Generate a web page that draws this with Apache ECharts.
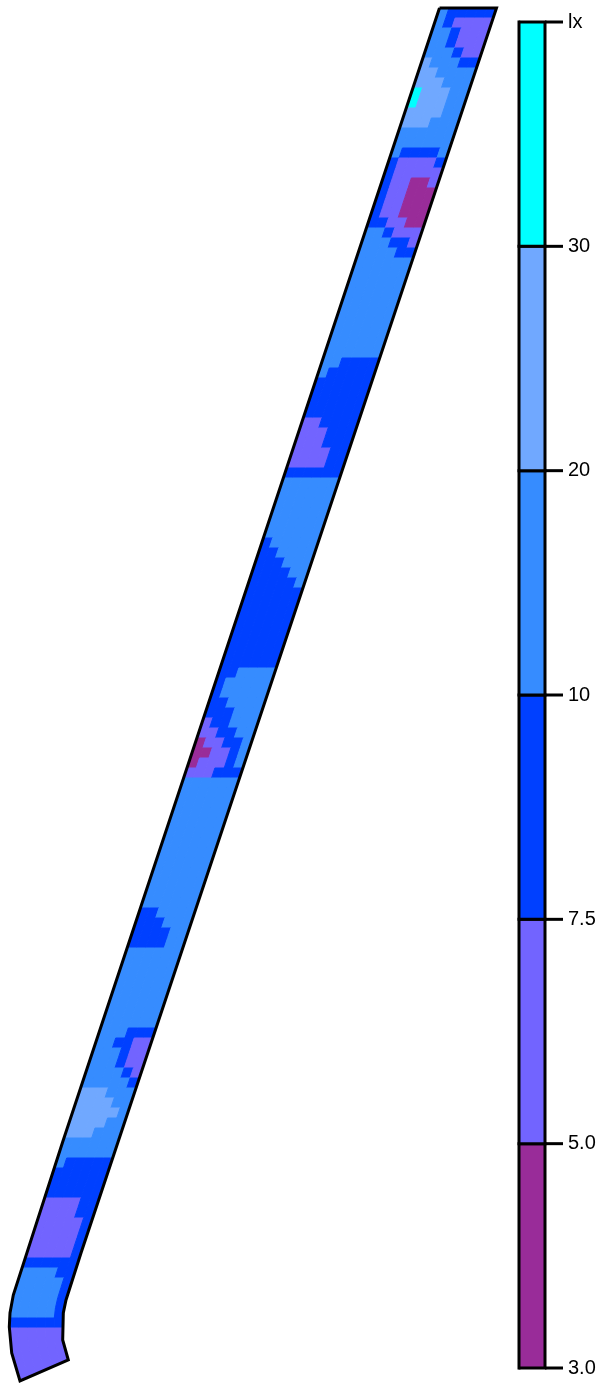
<!DOCTYPE html>
<html><head><meta charset="utf-8">
<script src="https://cdn.jsdelivr.net/npm/echarts@6/dist/echarts.min.js"></script>
<style>html,body{margin:0;padding:0;background:#fff}#c{width:600px;height:1385px}</style>
</head><body><div id="c"></div>
<script>
// Illuminance classes (lx)
const luxBreaks = [3, 5, 7.5, 10, 20, 30];
const luxColors = ['#992C99', '#7264FF', '#0040FF', '#368CFF', '#70A8FF', '#00FFFF'];
const colorbarLabels = ['3.0', '5.0', '7.5', '10', '20', '30', 'lx'];

// Road outline (chart units = px of the drawing plane)
const roadLeftEdge = [[439.5, 8], [63.3, 1140], [13.3, 1295], [10, 1313], [9.3, 1327], [11.7, 1353], [20, 1381]];
const roadRightEdge = [[496.5, 8], [118.7, 1140], [81, 1253], [66, 1300], [63.3, 1313], [62.7, 1340], [68.3, 1360]];

// Illuminance grid: rows along the road (top to bottom), 6 columns across (left to right)
const luxGrid = [
  [15,9,9,9,9,9],
  [15,9,6,6,6,6],
  [15,15,9,6,6,6],
  [15,15,9,6,6,6],
  [15,15,15,9,6,6],
  [25,15,15,15,9,9],
  [25,25,15,15,15,15],
  [25,25,25,15,15,15],
  [33,25,25,25,15,15],
  [33,25,25,25,15,15],
  [25,25,25,25,15,15],
  [25,25,25,15,15,15],
  [15,15,15,15,15,15],
  [15,15,15,15,15,15],
  [15,9,9,9,9,15],
  [9,6,6,6,6,9],
  [9,6,6,6,6,6],
  [9,6,6,4,4,6],
  [9,6,6,4,4,4],
  [9,6,6,4,4,4],
  [9,6,6,4,4,4],
  [9,9,6,6,4,4],
  [15,15,9,6,6,6],
  [15,15,15,9,9,6],
  [15,15,15,15,9,9],
  [15,15,15,15,15,15],
  [15,15,15,15,15,15],
  [15,15,15,15,15,15],
  [15,15,15,15,15,15],
  [15,15,15,15,15,15],
  [15,15,15,15,15,15],
  [15,15,15,15,15,15],
  [15,15,15,15,15,15],
  [15,15,15,15,15,15],
  [15,15,15,15,15,15],
  [15,15,9,9,9,9],
  [15,9,9,9,9,9],
  [9,9,9,9,9,9],
  [9,9,9,9,9,9],
  [9,9,9,9,9,9],
  [9,9,9,9,9,9],
  [6,6,9,9,9,9],
  [6,6,6,9,9,9],
  [6,6,6,9,9,9],
  [6,6,6,6,9,9],
  [6,6,6,6,9,9],
  [9,9,9,9,9,9],
  [15,15,15,15,15,15],
  [15,15,15,15,15,15],
  [15,15,15,15,15,15],
  [15,15,15,15,15,15],
  [15,15,15,15,15,15],
  [15,15,15,15,15,15],
  [9,15,15,15,15,15],
  [9,9,15,15,15,15],
  [9,9,9,15,15,15],
  [9,9,9,9,15,15],
  [9,9,9,9,9,15],
  [9,9,9,9,9,9],
  [9,9,9,9,9,9],
  [9,9,9,9,9,9],
  [9,9,9,9,9,9],
  [9,9,9,9,9,9],
  [9,9,9,9,9,9],
  [9,9,9,9,9,9],
  [9,9,9,9,9,9],
  [9,9,15,15,15,15],
  [9,15,15,15,15,15],
  [9,15,15,15,15,15],
  [9,9,15,15,15,15],
  [9,9,9,15,15,15],
  [6,9,9,15,15,15],
  [6,6,9,9,15,15],
  [4,6,6,9,9,15],
  [4,4,6,6,9,15],
  [4,6,6,6,9,15],
  [6,6,6,9,9,9],
  [15,15,15,15,15,15],
  [15,15,15,15,15,15],
  [15,15,15,15,15,15],
  [15,15,15,15,15,15],
  [15,15,15,15,15,15],
  [15,15,15,15,15,15],
  [15,15,15,15,15,15],
  [15,15,15,15,15,15],
  [15,15,15,15,15,15],
  [15,15,15,15,15,15],
  [15,15,15,15,15,15],
  [15,15,15,15,15,15],
  [15,15,15,15,15,15],
  [9,9,15,15,15,15],
  [9,9,9,15,15,15],
  [9,9,9,9,15,15],
  [9,9,9,9,15,15],
  [15,15,15,15,15,15],
  [15,15,15,15,15,15],
  [15,15,15,15,15,15],
  [15,15,15,15,15,15],
  [15,15,15,15,15,15],
  [15,15,15,15,15,15],
  [15,15,15,15,15,15],
  [15,15,15,15,15,15],
  [15,15,15,9,9,9],
  [15,15,9,9,6,6],
  [15,15,15,9,6,6],
  [15,15,15,9,6,6],
  [15,15,15,15,9,6],
  [15,15,15,15,15,9],
  [25,25,25,15,15,15],
  [25,25,25,25,15,15],
  [25,25,25,25,25,15],
  [25,25,25,25,15,15],
  [25,25,25,15,15,15],
  [15,15,15,15,15,15],
  [15,15,15,15,15,15],
  [15,9,9,9,9,9],
  [9,9,9,9,9,9],
  [9,9,9,9,9,9],
  [9,9,9,9,9,9],
  [6,6,6,6,9,9],
  [6,6,6,6,9,9],
  [6,6,6,6,6,9],
  [6,6,6,6,6,9],
  [6,6,6,6,6,9],
  [6,6,6,6,6,9],
  [9,9,9,9,9,9],
  [15,15,15,15,9,9],
  [15,15,15,15,15,9],
  [15,15,15,15,15,9],
  [15,15,15,15,15,9],
  [15,15,15,15,15,9],
  [9,9,9,9,9,9],
  [6,6,6,6,6,6],
  [6,6,6,6,6,6],
  [6,6,6,6,6,6]
];

const ROW_STEP = 10;
const NCOL = luxGrid[0].length;
const TICK_LEN = 18;

function edgeX(edge, y) {
  for (let k = 0; k < edge.length - 1; k++) {
    const a = edge[k], b = edge[k + 1];
    if (y <= b[1]) {
      const f = (y - a[1]) / (b[1] - a[1]);
      return a[0] + f * (b[0] - a[0]);
    }
  }
  return edge[edge.length - 1][0];
}
function boundary(k) {
  if (k >= luxGrid.length) {
    return [roadLeftEdge[roadLeftEdge.length - 1], roadRightEdge[roadRightEdge.length - 1]];
  }
  const y = roadLeftEdge[0][1] + k * ROW_STEP;
  return [[edgeX(roadLeftEdge, y), y], [edgeX(roadRightEdge, y), y]];
}
function lerpPt(b, t) {
  return [b[0][0] + t * (b[1][0] - b[0][0]), b[0][1] + t * (b[1][1] - b[0][1])];
}

const cellData = [];
luxGrid.forEach((row, i) => row.forEach((v, j) => cellData.push([i, j, v])));

const outline = roadLeftEdge.concat(roadRightEdge.slice().reverse(), [roadLeftEdge[0]]);

const pieces = luxBreaks.map((b, i) => {
  const p = { gte: b, color: luxColors[i] };
  if (i < luxBreaks.length - 1) p.lt = luxBreaks[i + 1];
  return p;
});

const chart = echarts.init(document.getElementById('c'), null, { renderer: 'canvas' });
chart.setOption({
  animation: false,
  backgroundColor: '#ffffff',
  grid: [
    { left: 0, top: 0, width: 600, height: 1385 },
    { left: 519, top: 22, width: 26, height: 1346 }
  ],
  xAxis: [
    { gridIndex: 0, type: 'value', min: 0, max: 600, show: false },
    { gridIndex: 1, type: 'value', min: 0, max: 1, show: false }
  ],
  yAxis: [
    { gridIndex: 0, type: 'value', min: 0, max: 1385, inverse: true, show: false },
    {
      gridIndex: 1, type: 'value', min: 0, max: 6, interval: 1, position: 'right',
      axisLine: { show: true, lineStyle: { color: '#000', width: 3 } },
      axisTick: { show: false },
      splitLine: { show: false },
      axisLabel: {
        margin: 23, fontSize: 20, color: '#000', fontFamily: 'Liberation Sans, Arial, sans-serif',
        formatter: v => colorbarLabels[Math.round(v)]
      }
    }
  ],
  visualMap: {
    type: 'piecewise', show: false, dimension: 2, seriesIndex: 0, pieces: pieces
  },
  series: [
    {
      type: 'custom', xAxisIndex: 0, yAxisIndex: 0, data: cellData, z: 2,
      renderItem: function (params, api) {
        const i = api.value(0), j = api.value(1);
        const top = boundary(i), bot = boundary(i + 1);
        const t0 = j / NCOL, t1 = (j + 1) / NCOL;
        const pts = [lerpPt(top, t0), lerpPt(top, t1), lerpPt(bot, t1), lerpPt(bot, t0)].map(p => api.coord(p));
        const col = api.visual('color');
        return { type: 'polygon', shape: { points: pts }, style: { fill: col, stroke: col, lineWidth: 1 } };
      }
    },
    {
      type: 'line', xAxisIndex: 0, yAxisIndex: 0, data: outline, symbol: 'none', z: 10,
      lineStyle: { color: '#000', width: 3, join: 'miter' }, silent: true
    },
    {
      type: 'custom', xAxisIndex: 1, yAxisIndex: 1, z: 3,
      data: luxColors.map((c, i) => [i]),
      renderItem: function (params, api) {
        const i = api.value(0);
        const p0 = api.coord([0, i + 1]);
        const p1 = api.coord([1, i]);
        const children = [
          {
            type: 'rect',
            shape: { x: p0[0], y: p0[1], width: p1[0] - p0[0], height: p1[1] - p0[1] },
            style: { fill: luxColors[i], stroke: '#000', lineWidth: 3 }
          },
          {
            type: 'line',
            shape: { x1: p1[0], y1: p0[1], x2: p1[0] + TICK_LEN, y2: p0[1] },
            style: { stroke: '#000', lineWidth: 3 }
          }
        ];
        if (i === 0) {
          children.push({
            type: 'line',
            shape: { x1: p1[0], y1: p1[1], x2: p1[0] + TICK_LEN, y2: p1[1] },
            style: { stroke: '#000', lineWidth: 3 }
          });
        }
        return { type: 'group', children: children };
      }
    }
  ]
});
</script>
</body></html>
